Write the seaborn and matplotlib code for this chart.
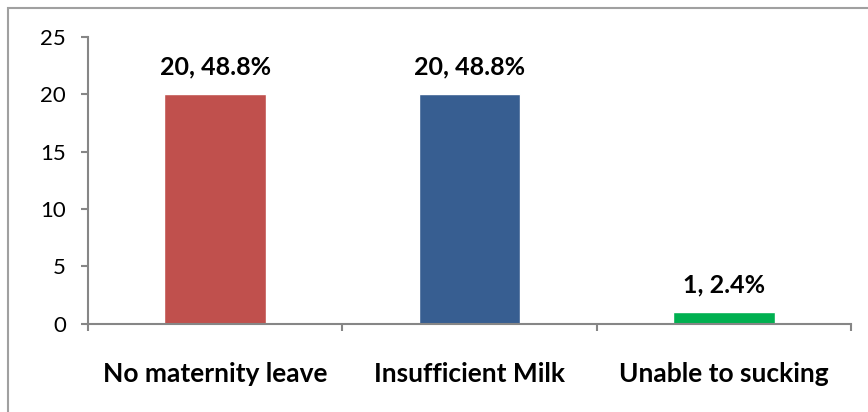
import matplotlib
matplotlib.use("Agg")
import matplotlib.pyplot as plt
from matplotlib.patches import Rectangle
import seaborn as sns
import pandas as pd

# data
reasons = ["No maternity leave", "Insufficient Milk", "Unable to sucking"]
counts = [20, 20, 1]
percents = [48.8, 48.8, 2.4]
bar_colors = ["#C0504D", "#375E91", "#00B050"]

df = pd.DataFrame({"reason": reasons, "count": counts})

sns.set_style("white")
plt.rcParams["font.family"] = ["Lato", "DejaVu Sans"]
plt.rcParams["text.color"] = "black"
plt.rcParams["xtick.labelcolor"] = "black"
plt.rcParams["ytick.labelcolor"] = "black"

fig = plt.figure(figsize=(8.68, 4.12), dpi=100)
ax = fig.add_axes([88 / 868, 1 - 323.5 / 412, (851 - 88) / 868, (323.5 - 37) / 412])

sns.barplot(data=df, x="reason", y="count", hue="reason", palette=bar_colors,
            width=0.4, legend=False, ax=ax, saturation=1)

# value labels above bars
for i, (c, p) in enumerate(zip(counts, percents)):
    ax.annotate(f"{c}, {p}%", (i, c), xytext=(0, 14), textcoords="offset points",
                ha="center", va="baseline", fontsize=18, fontweight="bold", color="black")

ax.set_ylim(0, 25)
ax.set_xlim(-0.5, 2.5)
ax.set_yticks(range(0, 26, 5))
ax.set_xlabel("")
ax.set_ylabel("")

# category ticks sit on the boundaries
ax.set_xticks([-0.5, 0.5, 1.5, 2.5])
ax.set_xticklabels([])
ax.set_xticks(range(len(reasons)), minor=True)
ax.set_xticklabels(reasons, minor=True, fontsize=19, fontweight="bold", color="black")
ax.tick_params(axis="x", which="minor", length=0, pad=28)
ax.tick_params(axis="x", which="major", length=5, width=1.5, color="#868686", direction="out")
ax.tick_params(axis="y", length=5, width=1.5, color="#868686", direction="out",
               labelsize=16, pad=11, labelcolor="black")
ax.tick_params(bottom=True, left=True)

sns.despine(ax=ax)
for side in ["left", "bottom"]:
    ax.spines[side].set_color("#868686")
    ax.spines[side].set_linewidth(1.5)

# outer chart border
border = Rectangle((8 / 868, -0.1), 1.2, 1 - 8 / 412 + 0.1, transform=fig.transFigure,
                   fill=False, edgecolor="#A0A0A0", linewidth=1.5, clip_on=False)
fig.patches.append(border)

fig.savefig("out.png", dpi=100)
